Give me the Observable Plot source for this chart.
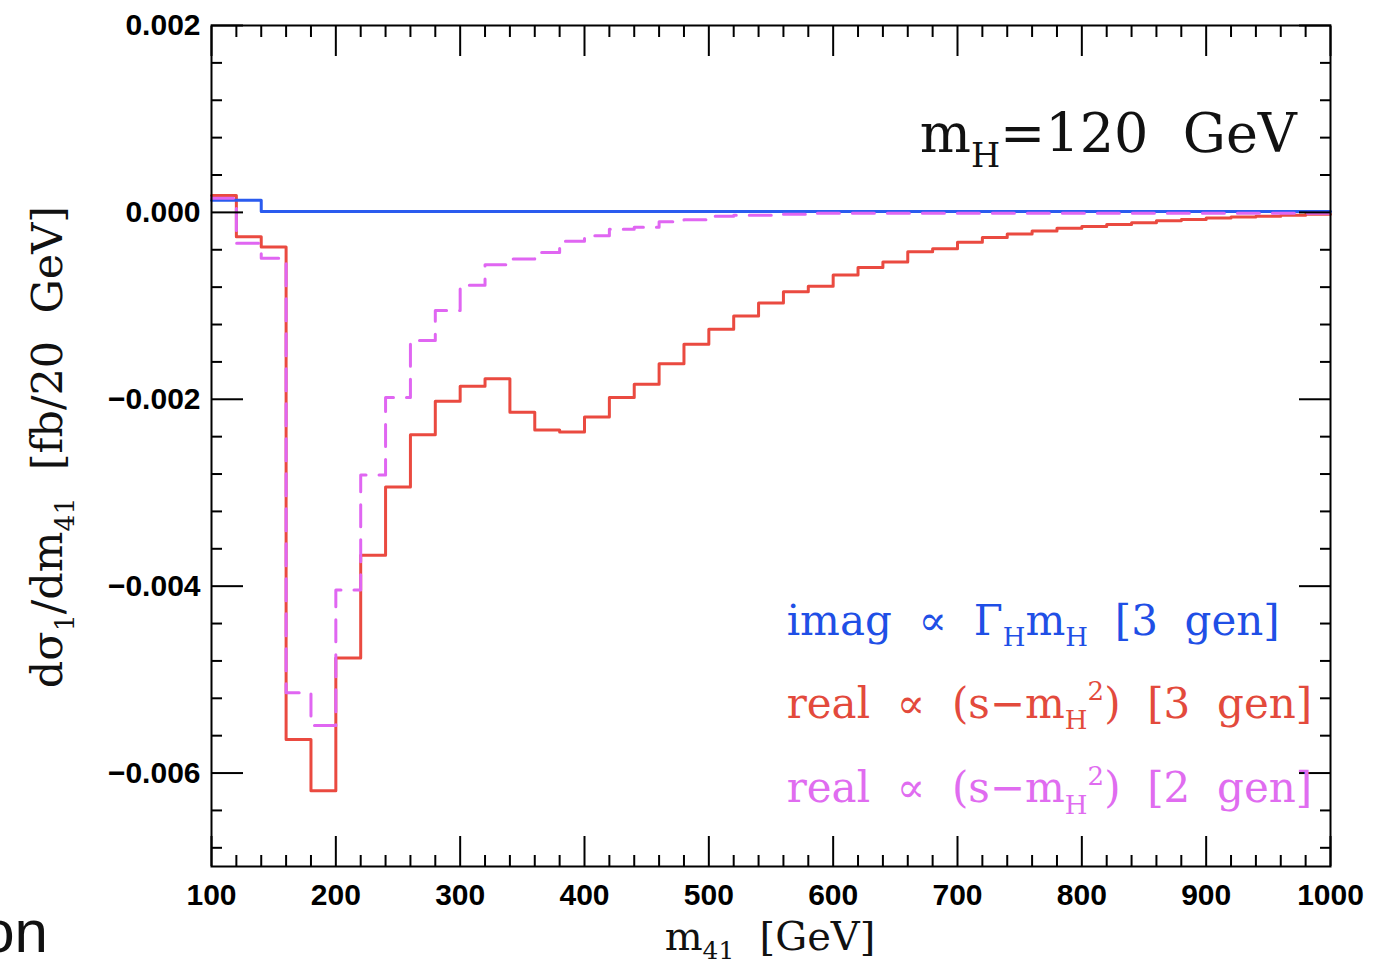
<!DOCTYPE html>
<html>
<head>
<meta charset="utf-8">
<script src="https://cdn.jsdelivr.net/npm/d3@7"></script>
<script src="https://cdn.jsdelivr.net/npm/@observablehq/plot@0.6"></script>
<style>
  html, body { margin: 0; padding: 0; background: #fff; }
  #chart svg { display: block; }
  text.rich { white-space: pre; }
</style>
</head>
<body>
<div id="chart"></div>
<script>
// ---- data ----
const binStart = [100,120,140,160,180,200,220,240,260,280,300,320,340,360,380,400,420,440,460,480,
                  500,520,540,560,580,600,620,640,660,680,700,720,740,760,780,800,820,840,860,880,
                  900,920,940,960,980];
const binEnd = 1000;

// imag ∝ Γ_H m_H [3 gen]  (blue)
const imagGen3 = [0.00013,0.00013,0.00001,0.00001,0.00001,0.00001,0.00001,0.00001,0.00001,0.00001,
                  0.00001,0.00001,0.00001,0.00001,0.00001,0.00001,0.00001,0.00001,0.00001,0.00001,
                  0.00001,0.00001,0.00001,0.00001,0.00001,0.00001,0.00001,0.00001,0.00001,0.00001,
                  0.00001,0.00001,0.00001,0.00001,0.00001,0.00001,0.00001,0.00001,0.00001,0.00001,
                  0.00001,0.00001,0.00001,0.00001,0.00001];

// real ∝ (s-m_H^2) [3 gen]  (red)
const realGen3 = [0.00018,-0.00026,-0.00037,-0.00564,-0.00619,-0.00477,-0.00367,-0.00294,-0.00238,-0.00202,
                  -0.00186,-0.00178,-0.00214,-0.00233,-0.00235,-0.00219,-0.00198,-0.00184,-0.00162,-0.00141,
                  -0.00125,-0.00111,-0.00097,-0.00085,-0.00079,-0.00067,-0.00059,-0.00053,-0.00042,-0.00039,
                  -0.00032,-0.00027,-0.00023,-0.00020,-0.00017,-0.00015,-0.00013,-0.00011,-0.00009,-0.000075,
                  -0.00006,-0.00005,-0.00004,-0.00003,-0.00002];

// real ∝ (s-m_H^2) [2 gen]  (magenta, dashed)
const realGen2 = [0.00015,-0.00033,-0.00049,-0.00514,-0.00549,-0.00404,-0.00281,-0.00198,-0.00137,-0.00105,
                  -0.00078,-0.00056,-0.00050,-0.00043,-0.00031,-0.00025,-0.00018,-0.00016,-0.00010,-0.00008,
                  -0.00004,-0.00003,-0.00003,-0.00002,-0.00001,-0.00001,-0.00001,-0.00001,-0.00001,-0.00001,
                  -0.00001,-0.00001,-0.00001,-0.00001,-0.00001,-0.00001,-0.00001,-0.00001,-0.00001,-0.00001,
                  -0.00001,-0.00001,-0.00001,-0.00001,-0.00001];

const xMajorTicks = [100,200,300,400,500,600,700,800,900,1000];
const xMinorTicks = [120,140,160,180,220,240,260,280,320,340,360,380,420,440,460,480,520,540,560,580,
                     620,640,660,680,720,740,760,780,820,840,860,880,920,940,960,980];
const yMajorTicks = [0.002,0.000,-0.002,-0.004,-0.006];
const yMinorTicks = [0.0016,0.0012,0.0008,0.0004,-0.0004,-0.0008,-0.0012,-0.0016,-0.0024,-0.0028,-0.0032,-0.0036,
                     -0.0044,-0.0048,-0.0052,-0.0056,-0.0064,-0.0068];

const colors = {imag: "#2a5bef", real3: "#ea4a40", real2: "#e066f2"};
const textColors = {imag: "#1f4fe6", real3: "#e34a3c", real2: "#e06cf0"};

function steps(vals) {
  const pts = binStart.map((x, i) => ({x, y: vals[i]}));
  pts.push({x: binEnd, y: vals[vals.length - 1]});
  return pts;
}

const tickFont = {fontFamily: "Liberation Sans, Arial, sans-serif", fontWeight: "bold", fontSize: 30};
const blank = () => "";

const plot = Plot.plot({
  width: 1392,
  height: 969,
  marginLeft: 211,
  marginRight: 62,
  marginTop: 25,
  marginBottom: 103,
  x: {domain: [100, 1000]},
  y: {domain: [-0.007, 0.002]},
  marks: [
    Plot.lineY(steps(realGen3), {x: "x", y: "y", curve: "step-after", stroke: colors.real3, strokeWidth: 3}),
    Plot.lineY(steps(imagGen3), {x: "x", y: "y", curve: "step-after", stroke: colors.imag, strokeWidth: 3}),
    Plot.lineY(steps(realGen2), {x: "x", y: "y", curve: "step-after", stroke: colors.real2, strokeWidth: 3, strokeDasharray: "22,13"}),
    Plot.frame({stroke: "black", strokeWidth: 2}),
    // inward ticks on all four sides
    Plot.axisX({anchor: "bottom", ticks: xMajorTicks, tickSize: -30, strokeWidth: 2, tickFormat: blank, label: null}),
    Plot.axisX({anchor: "bottom", ticks: xMinorTicks, tickSize: -11, strokeWidth: 2, tickFormat: blank, label: null}),
    Plot.axisX({anchor: "top", ticks: xMajorTicks, tickSize: -30, strokeWidth: 2, tickFormat: blank, label: null}),
    Plot.axisX({anchor: "top", ticks: xMinorTicks, tickSize: -11, strokeWidth: 2, tickFormat: blank, label: null}),
    Plot.axisY({anchor: "left", ticks: yMajorTicks, tickSize: -32, strokeWidth: 2, tickFormat: blank, label: null}),
    Plot.axisY({anchor: "left", ticks: yMinorTicks, tickSize: -11, strokeWidth: 2, tickFormat: blank, label: null}),
    Plot.axisY({anchor: "right", ticks: yMajorTicks, tickSize: -32, strokeWidth: 2, tickFormat: blank, label: null}),
    Plot.axisY({anchor: "right", ticks: yMinorTicks, tickSize: -11, strokeWidth: 2, tickFormat: blank, label: null}),
    // tick labels
    Plot.axisX({anchor: "bottom", ticks: xMajorTicks, tickSize: 0, tickPadding: 17, tickFormat: d => String(d), label: null, ...tickFont}),
    Plot.axisY({anchor: "left", ticks: yMajorTicks, tickSize: 0, tickPadding: 11, tickFormat: d3.format(".3f"), label: null, ...tickFont})
  ]
});

document.getElementById("chart").append(plot);

// ---- rich text annotations (subscripts / superscripts) ----
const svg = d3.select(plot);
const xs = plot.scale("x"), ys = plot.scale("y");

function rich(x, y, parts, size, color, opts = {}) {
  const t = svg.append("text")
    .attr("class", "rich")
    .attr("x", x).attr("y", y)
    .attr("font-family", "DejaVu Serif, serif")
    .attr("font-size", size)
    .attr("fill", color)
    .attr("text-anchor", opts.anchor || "start");
  if (opts.transform) t.attr("transform", opts.transform);
  const subShift = opts.subShift != null ? opts.subShift : 0.28;
  let shift = 0;
  for (const p of parts) {
    const [s, kind] = Array.isArray(p) ? p : [p, ""];
    const target = kind === "sub" ? size * subShift : kind === "sup" ? -size * 0.42 : 0;
    const ts = t.append("tspan").attr("dy", target - shift).text(s);
    if (kind) ts.attr("font-size", size * 0.62);
    shift = target;
  }
  return t;
}

// m_H = 120 GeV
rich(xs.apply(670), ys.apply(0.00064), ["m", ["H", "sub"], "=120  GeV"], 54, "#111");

// legend
const legX = xs.apply(563);
rich(legX, ys.apply(-0.004524), ["imag  \u221D  \u0393", ["H", "sub"], "m", ["H", "sub"], "  [3  gen]"], 42, textColors.imag);
rich(legX, ys.apply(-0.005412), ["real  \u221D  (s\u2212m", ["H", "sub"], ["2", "sup"], ")  [3  gen]"], 42, textColors.real3);
rich(legX, ys.apply(-0.00632), ["real  \u221D  (s\u2212m", ["H", "sub"], ["2", "sup"], ")  [2  gen]"], 42, textColors.real2);

// axis titles
rich(770, 950, ["m", ["41", "sub"], "  [GeV]"], 40, "#111", {anchor: "middle", subShift: 0.22});
rich(0, 0, ["d\u03C3", ["1", "sub"], "/dm", ["41", "sub"], "  [fb/20  GeV]"], 43, "#111",
     {anchor: "middle", transform: "translate(62,447) rotate(-90)"});

// cropped slide fragment at bottom-left (the reference shows it cut at the left edge)
svg.append("text").attr("x", 48).attr("y", 952).attr("text-anchor", "end")
  .attr("font-family", "Liberation Sans, Arial, sans-serif").attr("font-size", 60)
  .attr("fill", "#111").text("on");
</script>
</body>
</html>
